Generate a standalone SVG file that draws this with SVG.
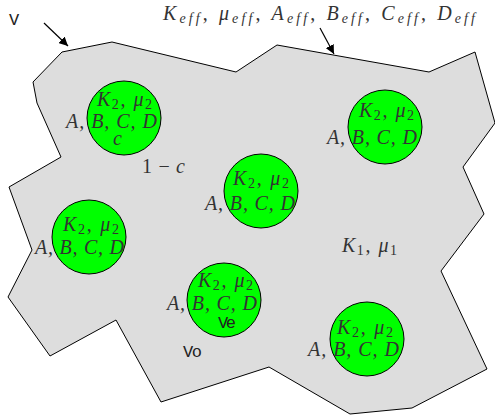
<svg xmlns="http://www.w3.org/2000/svg" width="495" height="419" viewBox="0 0 495 419">
<style>
.m{font-family:"Liberation Serif","DejaVu Serif",serif;font-size:20px;fill:#333;}
.i{font-style:italic;}
.s{font-size:14px;}
.tt{font-family:"Liberation Mono","DejaVu Sans Mono",monospace;font-size:17px;fill:#222;}
.inc{fill:#00ff00;stroke:#000;stroke-width:1;}
</style>
<defs>
<marker id="ah" viewBox="0 0 10 10" refX="10" refY="5" markerWidth="9" markerHeight="9" markerUnits="userSpaceOnUse" orient="auto">
<path d="M0,0 L10,5 L0,10 z" fill="#000"/>
</marker>
</defs>
<g id="matrix">
<polygon points="62,52 112,42 236,72 277,45 429,72 475,52 495,123 463,167 484,214 441,271 487,369 412,408 350,414 269,367 161,402 116,320 50,356 8,297 32,250 9,187 61,157 37,103 33,82" fill="#dddddd" stroke="#000" stroke-width="1"/>
<text class="m" x="342" y="252" textLength="55"><tspan class="i">K</tspan><tspan class="s" dy="3">1</tspan><tspan dy="-3">, </tspan><tspan class="i">μ</tspan><tspan class="s" dy="3">1</tspan></text>
<text class="m" x="142" y="173" textLength="43">1 − <tspan class="i">c</tspan></text>
<text class="tt" x="183" y="357" textLength="19">Vo</text>
</g>
<g id="inc1">
<circle class="inc" cx="124" cy="118" r="37"/>
<text class="m" x="97" y="106" textLength="55"><tspan class="i">K</tspan><tspan class="s" dy="3">2</tspan><tspan dy="-3">, </tspan><tspan class="i">μ</tspan><tspan class="s" dy="3">2</tspan></text>
<text class="m i" x="66" y="128" textLength="91">A, B, C, D</text>
<text class="m i" x="113" y="145">c</text>
</g>
<g id="inc2">
<circle class="inc" cx="385" cy="127" r="37"/>
<text class="m" x="359" y="117" textLength="55"><tspan class="i">K</tspan><tspan class="s" dy="3">2</tspan><tspan dy="-3">, </tspan><tspan class="i">μ</tspan><tspan class="s" dy="3">2</tspan></text>
<text class="m i" x="327" y="144" textLength="90">A, B, C, D</text>
</g>
<g id="inc3">
<circle class="inc" cx="89" cy="237" r="37"/>
<text class="m" x="63" y="231" textLength="56"><tspan class="i">K</tspan><tspan class="s" dy="3">2</tspan><tspan dy="-3">, </tspan><tspan class="i">μ</tspan><tspan class="s" dy="3">2</tspan></text>
<text class="m i" x="35" y="254" textLength="89">A, B, C, D</text>
</g>
<g id="inc4">
<circle class="inc" cx="261" cy="191" r="37"/>
<text class="m" x="233" y="185" textLength="56"><tspan class="i">K</tspan><tspan class="s" dy="3">2</tspan><tspan dy="-3">, </tspan><tspan class="i">μ</tspan><tspan class="s" dy="3">2</tspan></text>
<text class="m i" x="205" y="210" textLength="90">A, B, C, D</text>
</g>
<g id="inc5">
<circle class="inc" cx="224" cy="300" r="37"/>
<text class="m" x="198" y="287" textLength="55"><tspan class="i">K</tspan><tspan class="s" dy="3">2</tspan><tspan dy="-3">, </tspan><tspan class="i">μ</tspan><tspan class="s" dy="3">2</tspan></text>
<text class="m i" x="167" y="310" textLength="90">A, B, C, D</text>
<text class="tt" x="218" y="328" textLength="18">Ve</text>
</g>
<g id="inc6">
<circle class="inc" cx="367" cy="339" r="37"/>
<text class="m" x="337" y="334" textLength="56"><tspan class="i">K</tspan><tspan class="s" dy="3">2</tspan><tspan dy="-3">, </tspan><tspan class="i">μ</tspan><tspan class="s" dy="3">2</tspan></text>
<text class="m i" x="308" y="356" textLength="91">A, B, C, D</text>
</g>
<g id="labels">
<text class="tt" x="9" y="25" font-size="18">V</text>
<text class="m" x="163" y="20" textLength="312"><tspan class="i">K</tspan><tspan class="s i" dy="3">eff</tspan><tspan dy="-3">, </tspan><tspan class="i">μ</tspan><tspan class="s i" dy="3">eff</tspan><tspan dy="-3">, </tspan><tspan class="i">A</tspan><tspan class="s i" dy="3">eff</tspan><tspan dy="-3">, </tspan><tspan class="i">B</tspan><tspan class="s i" dy="3">eff</tspan><tspan dy="-3">, </tspan><tspan class="i">C</tspan><tspan class="s i" dy="3">eff</tspan><tspan dy="-3">, </tspan><tspan class="i">D</tspan><tspan class="s i" dy="3">eff</tspan></text>
</g>
<g id="connectors" stroke="#000" stroke-width="1.2" fill="none">
<line x1="44" y1="23" x2="68" y2="46" marker-end="url(#ah)"/>
<line x1="320" y1="28" x2="334" y2="54" marker-end="url(#ah)"/>
</g>
</svg>
